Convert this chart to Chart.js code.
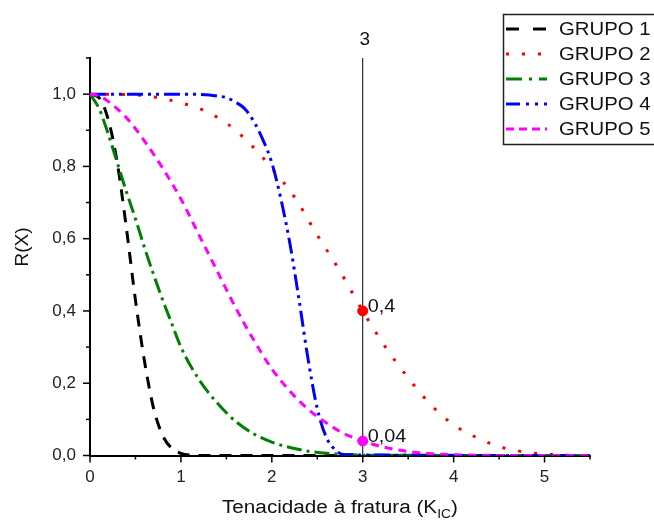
<!DOCTYPE html>
<html>
<head>
<meta charset="utf-8">
<script src="https://cdn.jsdelivr.net/npm/chart.js@4"></script>
<style>
  body { margin: 0; background: #fff; }
  canvas { display: block; }
</style>
</head>
<body>
<canvas id="rxChart" width="654" height="520"></canvas>
<script>
// values
const kic1 = [0, 0.1, 0.2, 0.3, 0.4, 0.5, 0.6, 0.7, 0.8, 0.9, 1.0, 1.1, 1.2, 5.5];
const grupo1 = [1.0, 0.99, 0.93, 0.81, 0.63, 0.43, 0.26, 0.13, 0.055, 0.02, 0.006, 0.001, 0, 0];

const kic2 = [0, 0.5, 0.75, 1.0, 1.25, 1.5, 1.75, 2.0, 2.25, 2.5, 2.75, 3.0, 3.25, 3.5, 3.75, 4.0, 4.25, 4.5, 4.75, 5.0, 5.25, 5.5];
const grupo2 = [1.0, 0.998, 0.99, 0.976, 0.955, 0.92, 0.865, 0.795, 0.715, 0.61, 0.51, 0.40, 0.30, 0.215, 0.14, 0.085, 0.05, 0.025, 0.011, 0.004, 0.001, 0];

const kic3 = [0, 0.1, 0.2, 0.3, 0.4, 0.5, 0.6, 0.7, 0.8, 0.9, 1.0, 1.2, 1.4, 1.6, 1.8, 2.0, 2.2, 2.4, 2.6, 2.8, 3.0, 5.5];
const grupo3 = [1.0, 0.96, 0.89, 0.81, 0.73, 0.655, 0.575, 0.50, 0.43, 0.365, 0.30, 0.21, 0.145, 0.095, 0.06, 0.037, 0.022, 0.012, 0.006, 0.003, 0.001, 0];

const kic4 = [0, 1.0, 1.4, 1.5, 1.6, 1.7, 1.8, 1.9, 2.0, 2.1, 2.2, 2.3, 2.4, 2.5, 2.6, 2.7, 2.8, 5.5];
const grupo4 = [1.0, 1.0, 0.995, 0.99, 0.978, 0.96, 0.925, 0.875, 0.81, 0.71, 0.585, 0.43, 0.265, 0.13, 0.05, 0.015, 0.002, 0];

const kic5 = [0, 0.1, 0.2, 0.4, 0.6, 0.8, 1.0, 1.2, 1.4, 1.6, 1.8, 2.0, 2.2, 2.4, 2.6, 2.8, 3.0, 3.25, 3.5, 3.75, 4.0, 4.5, 5.5];
const grupo5 = [1.0, 0.995, 0.98, 0.935, 0.87, 0.795, 0.71, 0.61, 0.51, 0.41, 0.32, 0.24, 0.178, 0.128, 0.09, 0.06, 0.04, 0.022, 0.011, 0.005, 0.002, 0.0003, 0];

const labels = ['GRUPO 1', 'GRUPO 2', 'GRUPO 3', 'GRUPO 4', 'GRUPO 5'];
const colors = ['#000000', '#ff0000', '#008000', '#0000ff', '#ff00ff'];
const dashes = [[12, 9], [3, 13], [15, 5, 3, 5], [16, 5, 3, 5, 3, 5], [8, 6]];
const legendDashes = [[13, 14], [3, 13], [16, 7, 3, 7], [14, 6, 3, 6, 3, 6], [8, 5]];

const markX = [3, 3];
const markY = [0.4, 0.04];
const markLabels = ['0,4', '0,04'];
const markColors = ['#ff0000', '#ff00ff'];

const refX = 3;
const xMax = 5.5;
const yMax = 1.1;

const FONT = '"Liberation Sans", Arial, sans-serif';
const pts = (xs, ys) => xs.map((x, i) => ({ x: x, y: ys[i] }));
const series = [[kic1, grupo1], [kic2, grupo2], [kic3, grupo3], [kic4, grupo4], [kic5, grupo5]];

const datasets = series.map((s, i) => ({
    label: labels[i],
    data: pts(s[0], s[1]),
    borderColor: colors[i],
    borderWidth: 3,
    borderDash: dashes[i],
    pointRadius: 0,
    cubicInterpolationMode: 'monotone',
    fill: false,
    order: 5 - i
}));

datasets.push({
    label: 'ref',
    data: [{ x: refX, y: 0 }, { x: refX, y: yMax }],
    borderColor: '#000',
    borderWidth: 1,
    pointRadius: 0,
    order: 10
});
datasets.push({
    label: 'marks',
    data: pts(markX, markY),
    showLine: false,
    pointRadius: 5,
    pointBackgroundColor: markColors,
    pointBorderColor: markColors,
    order: 0
});

// ticks, titles, annotations and the boxed legend
const decor = {
    id: 'decor',
    afterDraw(chart) {
        const ctx = chart.ctx;
        const xs = chart.scales.x, ys = chart.scales.y;
        const x0 = xs.getPixelForValue(0), y0 = ys.getPixelForValue(0);
        ctx.save();
        ctx.strokeStyle = '#000';
        ctx.lineWidth = 1.5;
        for (let i = 0; i <= 11; i++) {
            const y = ys.getPixelForValue(i / 10);
            const len = i % 2 === 0 ? 7 : 4;
            ctx.beginPath(); ctx.moveTo(x0, y); ctx.lineTo(x0 - len, y); ctx.stroke();
        }
        for (let i = 0; i <= 11; i++) {
            const x = xs.getPixelForValue(i / 2);
            const len = i % 2 === 0 ? 7 : 4;
            ctx.beginPath(); ctx.moveTo(x, y0); ctx.lineTo(x, y0 + len); ctx.stroke();
        }

        ctx.fillStyle = '#111';
        // annotations
        ctx.font = '19px ' + FONT;
        ctx.textAlign = 'center';
        ctx.textBaseline = 'alphabetic';
        ctx.fillText(String(refX), xs.getPixelForValue(refX) + 2, 45);
        ctx.font = '18px ' + FONT;
        ctx.textAlign = 'left';
        markLabels.forEach((t, i) => {
            ctx.save();
            ctx.translate(xs.getPixelForValue(markX[i]) + 5, ys.getPixelForValue(markY[i]) + 1);
            ctx.scale(1.1, 1);
            ctx.fillText(t, 0, 0);
            ctx.restore();
        });

        // y title
        ctx.save();
        ctx.font = '19px ' + FONT;
        ctx.translate(28, 247);
        ctx.rotate(-Math.PI / 2);
        ctx.textAlign = 'center';
        ctx.fillText('R(X)', 0, 0);
        ctx.restore();

        // x title with subscript
        ctx.save();
        ctx.translate(222, 513);
        ctx.scale(1.15, 1);
        const main = 'Tenacidade à fratura (K';
        ctx.fillText(main, 0, 0);
        let w = ctx.measureText(main).width;
        ctx.font = '12px ' + FONT;
        ctx.fillText('IC', w, 5);
        w += ctx.measureText('IC').width;
        ctx.font = '18px ' + FONT;
        ctx.fillText(')', w, 0);
        ctx.restore();

        // legend
        ctx.lineWidth = 1.5;
        ctx.strokeStyle = '#222';
        ctx.strokeRect(503.5, 14.5, 170, 130);
        ctx.textBaseline = 'middle';
        labels.forEach((t, i) => {
            const y = 29 + 25 * i;
            ctx.save();
            ctx.strokeStyle = colors[i];
            ctx.lineWidth = 3;
            ctx.setLineDash(legendDashes[i]);
            ctx.beginPath(); ctx.moveTo(506, y); ctx.lineTo(547, y); ctx.stroke();
            ctx.restore();
            ctx.save();
            ctx.translate(559, y + 1);
            ctx.scale(1.13, 1);
            ctx.fillText(t, 0, 0);
            ctx.restore();
        });
        ctx.restore();
    }
};

const tickFont = { family: FONT, size: 17 };

new Chart(document.getElementById('rxChart').getContext('2d'), {
    type: 'line',
    data: { datasets: datasets },
    options: {
        responsive: false,
        animation: false,
        layout: { padding: { top: 58, right: 64, left: 0, bottom: 0 } },
        plugins: { legend: { display: false }, tooltip: { enabled: false } },
        scales: {
            x: {
                type: 'linear',
                min: 0,
                max: xMax,
                afterFit: (s) => { s.height = 64.5; },
                grid: { display: false, drawTicks: false },
                border: { display: true, color: '#000', width: 2 },
                ticks: {
                    stepSize: 0.5,
                    padding: 12,
                    color: '#222',
                    font: tickFont,
                    maxRotation: 0,
                    autoSkip: false,
                    callback: (v) => (Math.abs(v - Math.round(v)) < 1e-6 ? String(Math.round(v)) : '')
                }
            },
            y: {
                type: 'linear',
                min: 0,
                max: yMax,
                afterFit: (s) => { s.width = 90; },
                grid: { display: false, drawTicks: false },
                border: { display: true, color: '#000', width: 2 },
                ticks: {
                    stepSize: 0.1,
                    padding: 14,
                    color: '#222',
                    font: tickFont,
                    autoSkip: false,
                    callback: (v) => {
                        const n = Math.round(v * 10);
                        return n % 2 === 0 ? (n / 10).toFixed(1).replace('.', ',') : '';
                    }
                }
            }
        }
    },
    plugins: [decor]
});
</script>
</body>
</html>
